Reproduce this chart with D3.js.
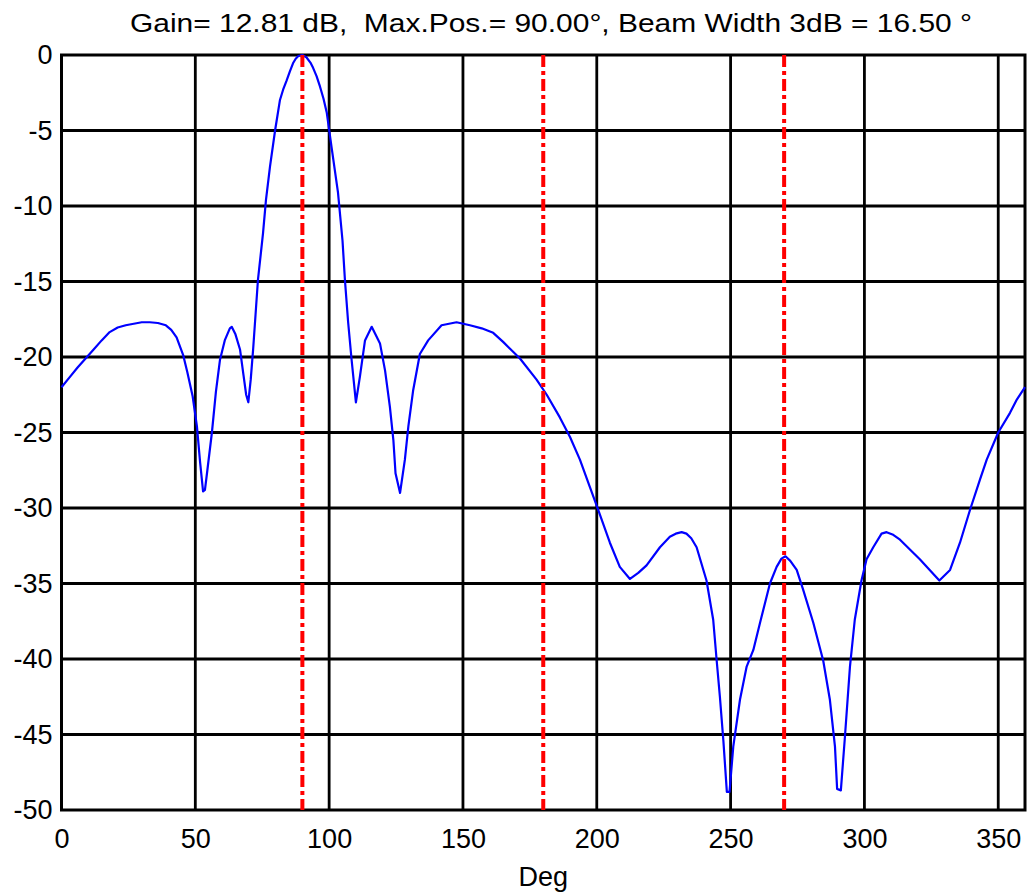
<!DOCTYPE html>
<html>
<head>
<meta charset="utf-8">
<script src="https://cdn.jsdelivr.net/npm/d3@7"></script>
<style>
  html, body { margin: 0; padding: 0; background: #fff; }
  svg { display: block; font-family: "Liberation Sans", Arial, sans-serif; }
  .title { white-space: pre; }
</style>
</head>
<body>
<svg id="chart" width="1030" height="896"></svg>
<script>
// ---- data ----
const titleText = "Gain= 12.81 dB,  Max.Pos.= 90.00°, Beam Width 3dB = 16.50 °";
const xLabel = "Deg";
const xTicks = [0, 50, 100, 150, 200, 250, 300, 350];
const yTicks = [0, -5, -10, -15, -20, -25, -30, -35, -40, -45, -50];
const markerDeg = [90, 180, 270];

const deg = [0,3,6,9,12,15,18,21,24,27,30,33,36,39,41,43,45.5,47,49,50.6,51.8,52.9,53.6,54.5,56.2,57.7,59.2,61,62.9,63.6,65,66.7,68,69,69.8,70.7,71.6,72.5,73.4,75.3,76.4,77.9,79.8,81.6,82.8,84.1,85.3,86.5,87.5,88.5,90,91.5,93,94,95.3,96.6,97.9,99.1,100.9,103.3,105,105.9,107.1,108.4,110,111.5,113.4,115.9,119,120.9,122.7,124,124.8,126.5,128.3,129.6,131.4,133.9,137,142,147.6,152.6,157,161.3,165,171.3,177.5,181.3,186.2,190,193.7,197.4,200.5,204.9,208.6,212.4,215.5,218.6,223.6,227.3,229.5,231.7,233.5,235.3,237.3,241,243.5,244.8,246,247.3,248.6,249.6,251,253.5,256,258.5,261,264.7,267.2,269,270.5,272.3,274.7,277.1,280.9,284.6,287.1,289,289.8,291.2,292.7,294.6,296.4,298.9,300.8,303.3,306.4,308.3,310.5,313.3,320.7,328,332,335.7,339.5,343.2,345.7,350,354.4,357,360];
const gainDb = [-22,-21.35,-20.7,-20.1,-19.5,-18.9,-18.35,-18.05,-17.9,-17.8,-17.7,-17.7,-17.75,-17.9,-18.2,-18.7,-19.9,-21,-22.6,-24.6,-27,-28.9,-28.8,-27.5,-25,-22.3,-20.2,-18.9,-18.1,-18,-18.5,-19.5,-21.2,-22.5,-23,-21.5,-19.5,-17.2,-14.9,-11.8,-9.6,-7.4,-5,-3,-2.3,-1.7,-1.1,-0.55,-0.25,-0.07,0,-0.15,-0.5,-0.85,-1.4,-2.1,-2.9,-3.8,-6.1,-9.1,-12.3,-14.9,-17.7,-20.2,-23,-21.3,-18.9,-18,-19.1,-20.9,-23.3,-25.5,-27.7,-29,-26.8,-24.6,-22.2,-19.8,-18.9,-17.9,-17.7,-17.9,-18.1,-18.4,-19,-20.1,-21.5,-22.5,-24,-25.3,-26.8,-28.6,-30.1,-32.3,-33.9,-34.7,-34.3,-33.8,-32.6,-31.9,-31.7,-31.6,-31.7,-32.0,-32.6,-34.8,-37.4,-40.1,-42.5,-45.4,-48.8,-48.8,-45.8,-42.7,-40.5,-39.4,-37.6,-35,-33.9,-33.35,-33.2,-33.5,-34.1,-35.4,-37.6,-40.1,-42.7,-45.8,-48.6,-48.7,-45.2,-40.5,-37.4,-34.8,-33.4,-32.6,-31.7,-31.6,-31.75,-32.1,-33.4,-34.8,-34.1,-32.3,-30.1,-28.1,-26.8,-25,-23.7,-22.8,-22];

// ---- layout ----
const svg = d3.select("#chart");
const L = 61.5, R = 1025, T = 55, B = 810;
const x = d3.scaleLinear().domain([0, 360]).range([L, R]);
const y = d3.scaleLinear().domain([-50, 0]).range([B, T]);

// grid
const grid = svg.append("g");
grid.selectAll("line.v").data(xTicks.filter(d => d > 0)).join("line")
  .attr("x1", d => x(d)).attr("x2", d => x(d))
  .attr("y1", T).attr("y2", B)
  .attr("stroke", "#000").attr("stroke-width", 2.8);
grid.selectAll("line.h").data(yTicks.filter(d => d < 0 && d > -50)).join("line")
  .attr("x1", L).attr("x2", R)
  .attr("y1", d => y(d)).attr("y2", d => y(d))
  .attr("stroke", "#000").attr("stroke-width", 2.8);

// axes (labels only)
const yAxis = svg.append("g").attr("transform", `translate(${L},0)`)
  .call(d3.axisLeft(y).tickValues(yTicks).tickSize(0).tickPadding(9).tickFormat(d => String(d)));
const xAxis = svg.append("g").attr("transform", `translate(0,${B})`)
  .call(d3.axisBottom(x).tickValues(xTicks).tickSize(0).tickPadding(19).tickFormat(d => String(d)));
[yAxis, xAxis].forEach(g => {
  g.select(".domain").remove();
  g.selectAll("text").attr("font-size", 27).attr("fill", "#000")
    .attr("font-family", "'Liberation Sans', Arial, sans-serif");
});

// frame
svg.append("rect").attr("x", L).attr("y", T).attr("width", R - L).attr("height", B - T)
  .attr("fill", "none").attr("stroke", "#000").attr("stroke-width", 3);

// curve
const pts = deg.map((d, i) => [d, gainDb[i]]);
svg.append("path").datum(pts)
  .attr("d", d3.line().x(d => x(d[0])).y(d => y(d[1])))
  .attr("fill", "none").attr("stroke", "#0000ff").attr("stroke-width", 2.2)
  .attr("stroke-linejoin", "round");

// markers
svg.selectAll("line.mk").data(markerDeg).join("line")
  .attr("x1", d => x(d)).attr("x2", d => x(d))
  .attr("y1", T).attr("y2", B)
  .attr("stroke", "#ff0000").attr("stroke-width", 4)
  .attr("stroke-dasharray", "12,4,4,4");

// title
svg.append("text").attr("class", "title").attr("x", 551).attr("y", 32).attr("text-anchor", "middle")
  .attr("font-size", 26).attr("textLength", 842).attr("lengthAdjust", "spacingAndGlyphs")
  .attr("fill", "#000").text(titleText);

// x label
svg.append("text").attr("x", (L + R) / 2).attr("y", 886).attr("text-anchor", "middle")
  .attr("font-size", 27).attr("fill", "#000").text(xLabel);
</script>
</body>
</html>
